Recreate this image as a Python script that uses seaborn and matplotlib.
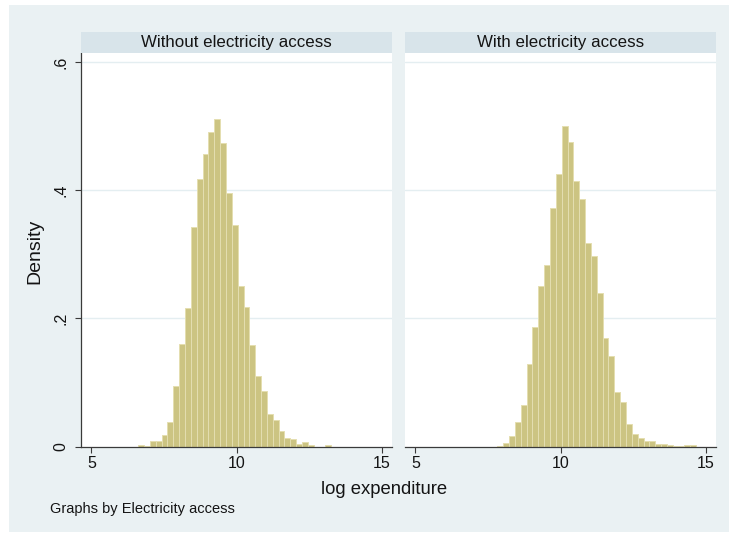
import numpy as np
import pandas as pd
import matplotlib
matplotlib.use("Agg")
import matplotlib.pyplot as plt
from matplotlib.patches import Rectangle
import seaborn as sns

# Histogram of log household expenditure by electricity access (density scale)
panels = ["Without electricity access", "With electricity access"]

# Common bin grid shared by both panels
bin_start = 6.61
bin_width = 0.2012

# Density of each bin, left panel (bins 0..32)
density_without = [0.0026, 0.0005, 0.0083, 0.0083, 0.018, 0.039, 0.095, 0.160,
                   0.217, 0.342, 0.417, 0.457, 0.491, 0.512, 0.474, 0.396,
                   0.346, 0.251, 0.218, 0.159, 0.110, 0.086, 0.050, 0.041,
                   0.024, 0.0125, 0.0115, 0.004, 0.007, 0.0026, 0.0, 0.0,
                   0.0016]
first_bin_without = 0

# Density of each bin, right panel (bins 6..39)
density_with = [0.001, 0.0057, 0.017, 0.038, 0.065, 0.129, 0.186, 0.251,
                0.284, 0.373, 0.425, 0.500, 0.476, 0.415, 0.386, 0.317,
                0.298, 0.239, 0.169, 0.141, 0.085, 0.069, 0.035, 0.019,
                0.0135, 0.0083, 0.0083, 0.004, 0.004, 0.0026, 0.001, 0.0005,
                0.0016, 0.0016]
first_bin_with = 6

x_ticks = [5, 10, 15]
y_ticks = [0, 0.2, 0.4, 0.6]
y_tick_labels = ["0", ".2", ".4", ".6"]


def panel_frame(densities, first_bin, label):
    idx = np.arange(first_bin, first_bin + len(densities))
    centers = bin_start + (idx + 0.5) * bin_width
    return pd.DataFrame({"logexp": centers, "density": densities, "group": label})


df = pd.concat([panel_frame(density_without, first_bin_without, panels[0]),
                panel_frame(density_with, first_bin_with, panels[1])],
               ignore_index=True)
n_bins = first_bin_with + len(density_with)
edges = [float(v) for v in bin_start + np.arange(n_bins + 1) * bin_width]

sns.set_theme(style="white")
plt.rcParams["font.family"] = ["Liberation Sans", "DejaVu Sans"]

W, H = 729, 534
fig = plt.figure(figsize=(W / 100, H / 100), dpi=100)
fig.patch.set_facecolor("white")

BG = "#eaf1f3"
STRIP = "#d8e4ea"
GRID = "#e4eef1"
BAR = "#ccc482"
BAR_EDGE = "#e4deb0"
AX = "#3a3a3a"
TXT = "#141414"

# graph region background
fig.add_artist(Rectangle((9 / W, 1 - 532 / H), (W - 9) / W, (532 - 5) / H,
                         transform=fig.transFigure, facecolor=BG,
                         edgecolor="none", zorder=0))


def px_axes(x0, x1, y0, y1):
    return fig.add_axes([x0 / W, 1 - y1 / H, (x1 - x0) / W, (y1 - y0) / H])


plot_top, plot_bot = 53.3, 446.5
strip_top = 31.7
panel_x = [(81, 391.7), (405, 715.7)]

for i, (name, (x0, x1)) in enumerate(zip(panels, panel_x)):
    ax = px_axes(x0, x1, plot_top, plot_bot)
    sub = df[df["group"] == name].reset_index(drop=True)
    sns.histplot(x=sub["logexp"].to_numpy(), weights=sub["density"].to_numpy(),
                 bins=edges, stat="count", ax=ax, color=BAR,
                 edgecolor=BAR_EDGE, linewidth=0.7, alpha=1)
    ax.set_facecolor("white")
    ax.set_xlim(4.64, 15.33)
    ax.set_ylim(0, 0.614)
    ax.set_xlabel("")
    ax.set_ylabel("")
    for yv in y_ticks[1:]:
        ax.axhline(yv, color=GRID, lw=1.0, zorder=0)
    ax.set_axisbelow(True)
    for s in ["top", "right"]:
        ax.spines[s].set_visible(False)
    ax.spines["bottom"].set_color(AX)
    ax.spines["bottom"].set_linewidth(0.9)
    ax.set_xticks(x_ticks)
    ax.set_xticklabels([str(t) for t in x_ticks], fontsize=11.5, color=TXT)
    ax.tick_params(axis="x", bottom=True, length=4, width=0.8, color=AX, pad=3)
    if i == 0:
        ax.spines["left"].set_color(AX)
        ax.spines["left"].set_linewidth(0.9)
        ax.set_yticks(y_ticks)
        ax.set_yticklabels(y_tick_labels, fontsize=11.5, color=TXT,
                           rotation=90, va="center")
        ax.tick_params(axis="y", left=True, length=4, width=0.8, color=AX, pad=5)
    else:
        ax.spines["left"].set_visible(False)
        ax.set_yticks([])

    # panel strip with its title
    sax = px_axes(x0, x1, strip_top, plot_top)
    sax.set_facecolor(STRIP)
    sax.set_xticks([])
    sax.set_yticks([])
    for s in sax.spines.values():
        s.set_visible(False)
    sax.text(0.5, 0.5, name, ha="center", va="center", fontsize=12.2,
             color=TXT, transform=sax.transAxes)

fig.text(35 / W, 1 - 251 / H, "Density", rotation=90, ha="center",
         va="center", fontsize=14, color=TXT)
fig.text(384 / W, 1 - 490 / H, "log expenditure", ha="center", va="center",
         fontsize=13.3, color=TXT)
fig.text(50 / W, 1 - 509 / H, "Graphs by Electricity access", ha="left",
         va="center", fontsize=10.5, color=TXT)

fig.savefig("out.png", dpi=100, facecolor="white")
